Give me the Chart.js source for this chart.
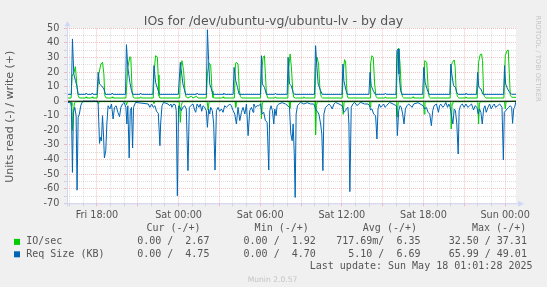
<!DOCTYPE html>
<html>
<head>
<meta charset="utf-8">
<title>IOs for /dev/ubuntu-vg/ubuntu-lv - by day</title>
<script src="https://cdn.jsdelivr.net/npm/chart.js@4.4.1/dist/chart.umd.min.js"></script>
<style>
  html, body { margin: 0; padding: 0; background: #f0f0f0; }
  canvas { display: block; }
</style>
</head>
<body>
<canvas id="chart" width="547" height="287"></canvas>
<script>
// Time is in hours counted from Fri 00:00, values as plotted (read negative)
const ioWrite = [
  [15.80,2.2],[16.10,2.2],[16.17,17],[16.32,20],[16.42,23.7],[16.54,9.5],[16.62,3.8],[16.71,2.2],[17.16,2.2],[17.20,3.0],[17.25,2.2],[17.60,2.2],[17.65,3.0],[17.70,2.2],
  [18.01,2.2],[18.14,18.7],[18.29,25.5],[18.41,26.7],[18.51,18.7],[18.58,3.8],[18.68,2.2],[19.07,2.2],[19.12,3.0],[19.17,2.2],
  [20.13,2.2],[20.27,23.2],[20.42,30.5],[20.49,30.1],[20.59,6.1],[20.67,2.6],[20.75,2.2],[21.16,2.2],[21.21,3.0],[21.26,2.2],
  [22.14,2.2],[22.21,21.0],[22.31,31.2],[22.44,30.4],[22.50,18],[22.56,3.8],[22.62,2.2],
  [24.08,2.2],[24.15,23.2],[24.25,27.8],[24.37,21.0],[24.47,7.2],[24.54,3.1],[24.69,2.2],[24.94,3.4],[25.06,2.2],[25.31,3.4],[25.43,2.2],
  [26.04,2.2],[26.12,18.7],[26.24,26.0],[26.36,25.0],[26.46,7.0],[26.53,2.6],[26.66,2.2],[27.22,2.2],[27.27,3.0],[27.32,2.2],
  [28.10,2.2],[28.18,25.5],[28.25,26.7],[28.37,25.5],[28.47,7.2],[28.55,3.1],[28.64,2.2],
  [30.02,2.2],[30.09,18.7],[30.21,30.1],[30.31,31.2],[30.38,18.7],[30.46,5.0],[30.56,2.2],[31.07,2.2],[31.12,3.0],[31.17,2.2],
  [32.03,2.2],[32.10,23.2],[32.20,32.4],[32.30,22.1],[32.40,6.1],[32.47,2.6],[32.59,2.2],[33.16,2.2],[33.21,3.0],[33.26,2.2],
  [34.02,2.2],[34.09,23.2],[34.19,30.1],[34.29,25.5],[34.39,8.4],[34.48,3.1],[34.58,2.2],
  [36.03,2.2],[36.10,19.8],[36.20,28.5],[36.28,27.0],[36.34,12.0],[36.40,3.8],[36.46,2.2],
  [38.07,2.2],[38.11,25.5],[38.21,31.2],[38.31,30.1],[38.41,11.8],[38.51,3.1],[38.61,2.2],[39.15,2.2],[39.20,3.0],[39.25,2.2],
  [40.01,2.2],[40.08,32.4],[40.18,36.5],[40.28,25.5],[40.37,7.2],[40.45,3.1],[40.55,2.2],[41.18,2.2],[41.23,3.0],[41.28,2.2],
  [42.02,2.2],[42.09,27.8],[42.24,26.7],[42.34,9.5],[42.41,3.1],[42.51,2.2],
  [43.96,2.2],[44.04,24.4],[44.13,26.7],[44.26,28.3],[44.33,23.2],[44.40,7.2],[44.50,3.1],[44.60,2.2],[45.07,2.2],[45.12,3.0],[45.17,2.2],
  [45.95,2.2],[46.05,26.7],[46.17,31.9],[46.27,32.4],[46.34,27.8],[46.42,5.0],[46.49,3.1],[46.59,2.2],
  [47.91,2.2],[48.01,31.2],[48.14,34.7],[48.23,35.1],[48.31,18.7],[48.38,3.8],[48.50,2.7],[48.80,2.67]
];

const ioRead = [
  [15.80,-0.3],[16.12,-0.5],[16.16,-3],[16.20,-20],[16.27,-7.6],[16.35,-1],[16.45,-0.4],
  [18.05,-0.3],[18.09,-1.5],[18.15,-0.3],[20.13,-0.3],[20.17,-2.5],[20.25,-0.3],
  [22.15,-0.3],[22.19,-1.5],[22.25,-0.3],[24.05,-0.5],[24.13,-14.5],[24.20,-3],[24.28,-0.4],
  [26.10,-0.3],[26.17,-6],[26.24,-0.4],[28.15,-0.3],[28.20,-4.2],[28.26,-0.4],
  [30.05,-0.3],[30.09,-12],[30.15,-2],[30.22,-0.4],[32.12,-0.3],[32.18,-5],[32.24,-0.4],
  [34.03,-0.3],[34.07,-23],[34.13,-3],[34.20,-0.4],[36.05,-0.3],[36.10,-9],[36.17,-0.4],
  [38.03,-0.3],[38.07,-4],[38.13,-0.4],[40.03,-0.3],[40.08,-11],[40.14,-0.4],
  [42.01,-0.3],[42.05,-8.8],[42.11,-0.4],[44.00,-0.3],[44.04,-19.1],[44.10,-2],[44.16,-0.4],
  [46.00,-0.3],[46.05,-15.6],[46.11,-2],[46.17,-0.4],[47.96,-0.3],[48.01,-5.3],[48.07,-0.4],[48.80,0]
];

const reqWrite = [
  [15.80,4.7],[16.12,4.7],[16.20,42.7],[16.30,18.7],[16.42,14.1],[16.52,10.7],[16.62,4.7],[17.16,4.7],[17.20,5.6],[17.28,4.7],[17.60,4.7],[17.65,5.6],[17.72,4.7],
  [18.01,4.7],[18.09,19.8],[18.19,11.8],[18.33,10.7],[18.51,8.4],[18.63,4.7],[19.07,4.7],[19.12,5.6],[19.19,4.7],
  [20.10,4.7],[20.17,38.8],[20.27,23.2],[20.42,13.0],[20.54,7.2],[20.64,4.7],[21.16,4.7],[21.21,5.6],[21.28,4.7],
  [22.11,4.7],[22.19,24.4],[22.31,13.0],[22.46,8.4],[22.61,4.7],
  [23.98,4.7],[24.13,26.6],[24.23,18.7],[24.32,11.8],[24.52,4.7],[25.31,4.7],[25.36,5.6],[25.43,4.7],
  [26.04,4.7],[26.12,49.0],[26.21,27.8],[26.29,11.8],[26.41,8.4],[26.53,4.7],[27.27,4.7],[27.32,5.6],[27.39,4.7],
  [28.01,4.7],[28.08,23.2],[28.20,14.1],[28.33,9.5],[28.45,4.7],
  [30.02,4.7],[30.09,31.2],[30.16,11.8],[30.31,9.5],[30.46,4.7],[31.07,4.7],[31.12,5.6],[31.19,4.7],
  [31.98,4.7],[32.05,30.1],[32.15,11.8],[32.28,10.7],[32.42,6.1],[32.52,4.7],
  [33.99,4.7],[34.07,38.1],[34.17,23.2],[34.26,11.8],[34.44,7.2],[34.56,4.7],
  [36.01,4.7],[36.08,25.5],[36.15,14.1],[36.28,8.4],[36.40,4.7],
  [37.99,4.7],[38.07,19.8],[38.16,10.7],[38.31,7.2],[38.46,4.7],[39.15,4.7],[39.20,5.6],[39.27,4.7],
  [39.98,4.7],[40.05,34.7],[40.13,35.8],[40.20,18.7],[40.32,7.2],[40.42,4.7],
  [41.94,4.7],[42.02,23.2],[42.12,13.0],[42.26,8.4],[42.41,4.7],
  [43.94,4.7],[44.01,25.5],[44.08,18.7],[44.21,10.7],[44.35,9.5],[44.45,6.1],[44.55,4.7],[45.07,4.7],[45.12,5.6],[45.19,4.7],
  [45.90,4.7],[45.98,19.8],[46.07,9.5],[46.22,8.4],[46.37,4.7],
  [47.89,4.7],[47.96,24.4],[48.04,11.8],[48.18,8.4],[48.33,6.1],[48.48,4.7],[48.80,4.75]
];

const reqRead = [
  [15.80,-0.8],[16.07,-1.0],[16.12,-4.2],[16.20,-48.8],[16.27,-7.6],[16.37,-4.2],[16.47,-9.9],[16.54,-61.0],[16.62,-11.0],[16.71,-8.8],[16.81,-3.1],[16.91,-0.8],[17.01,0],
  [18.04,0],[18.09,-1.9],[18.19,-28.9],[18.26,-24.8],[18.33,-27.1],[18.41,-9.9],[18.48,-22.5],[18.55,-38.9],[18.65,-33.9],[18.73,-15.6],[18.82,-3.1],[18.95,-5.3],
  [19.07,-1.9],[19.19,-12.2],[19.29,-4.2],[19.41,-3.1],[19.54,-7.6],[19.66,-10.6],[19.76,-4.2],[19.88,-1.9],[20.00,-0.8],
  [20.13,-4.2],[20.20,-15.6],[20.27,-3.1],[20.37,-38.9],[20.45,-6.5],[20.54,-4.2],[20.62,-32.1],[20.69,-4.2],[20.84,-0.8],
  [21.77,-1.9],[21.89,-4.2],[22.02,-1.9],[22.14,-4.2],[22.26,-3.1],[22.38,-6.9],[22.51,-8.3],[22.63,-30.5],[22.68,-15.6],[22.78,-3.1],[22.90,-0.8],
  [23.22,-1.9],[23.34,-3.1],[23.44,-1.9],[23.51,-4.2],[23.64,-1.9],[23.76,-2.5],[23.83,-6.5],[23.91,-64.8],[24.00,-3.1],[24.10,-4.2],[24.20,-6.5],
  [24.32,-4.2],[24.45,-3.1],[24.57,-5.3],[24.69,-47.6],[24.79,-4.2],[24.89,-3.1],[25.06,-1.9],[25.18,-6.0],[25.26,-7.6],[25.36,-1.9],[25.50,-4.2],
  [25.60,-1.9],[25.70,-6.9],[25.80,-3.1],[25.92,-4.2],
  [26.04,-6.5],[26.12,-17.9],[26.21,-5.3],[26.29,-8.8],[26.36,-4.2],[26.48,-6.5],[26.58,-15.6],[26.68,-47.2],[26.78,-6.5],[26.90,-4.2],[27.02,-6.9],
  [27.15,-5.3],[27.27,-7.6],[27.39,-3.1],[27.52,-4.2],[27.64,-3.1],[27.76,-1.9],[27.88,-3.1],
  [28.01,-6.5],[28.13,-8.8],[28.25,-15.6],[28.37,-4.2],[28.50,-13.3],[28.62,-7.6],[28.74,-4.2],[28.87,-8.8],[28.99,-1.9],[29.11,-23.6],[29.23,-6.5],
  [29.36,-4.2],[29.48,-7.6],[29.53,-1.9],[29.65,-4.2],[29.77,-3.1],[29.89,-3.1],
  [30.02,-1.9],[30.14,-8.8],[30.26,-7.6],[30.38,-13.3],[30.51,-14.5],[30.63,-47.2],[30.70,-6.5],[30.80,-3.1],[30.90,-6.5],[31.00,-15.6],[31.07,-5.3],
  [31.17,-9.9],[31.24,-3.1],[31.37,-1.9],[31.61,-1.0],[31.86,-1.9],
  [32.03,-3.1],[32.15,-4.2],[32.25,-22.5],[32.35,-27.1],[32.42,-15.6],[32.50,-35.1],[32.57,-66.0],[32.64,-8.8],[32.74,-3.1],[32.84,-1.9],[32.96,-0.8],
  [33.21,-1.9],[33.45,-1.0],[33.70,-1.9],[33.94,-1.9],
  [34.07,-5.3],[34.19,-6.9],[34.31,-8.8],[34.44,-15.6],[34.53,-22.5],[34.61,-47.6],[34.68,-8.8],[34.80,-4.2],[34.93,-3.1],[35.05,-1.9],[35.17,-3.1],
  [35.29,-5.3],[35.42,-1.9],[35.54,-0.8],[35.79,-1.9],
  [36.03,-3.1],[36.15,-7.6],[36.28,-6.5],[36.32,-5.3],[36.45,-4.2],[36.52,-15.6],[36.59,-62.0],[36.69,-4.2],[36.81,-1.9],[36.94,-0.8],[37.13,-3.1],
  [37.23,-1.9],[37.38,-0.8],[37.67,-1.9],[37.92,-1.9],
  [38.04,-3.1],[38.11,-6.0],[38.21,-5.3],[38.34,-8.8],[38.48,-9.9],[38.58,-25.9],[38.66,-5.3],[38.75,-1.9],[38.85,-4.2],[38.95,-3.1],[39.07,-1.9],
  [39.17,-4.2],[39.29,-3.1],[39.39,-1.9],[39.51,-0.8],[39.76,-1.9],
  [40.01,-3.1],[40.08,-23.6],[40.18,-6.5],[40.28,-3.1],[40.37,-4.2],[40.47,-8.8],[40.57,-15.6],[40.67,-5.3],[40.79,-3.1],[40.91,-1.9],[41.06,-3.1],
  [41.16,-4.2],[41.28,-1.9],[41.60,-1.0],
  [41.97,-3.1],[42.09,-5.3],[42.21,-4.2],[42.34,-7.6],[42.46,-8.8],[42.58,-16.8],[42.68,-6.5],[42.78,-3.1],[42.95,-1.9],[43.10,-7.6],[43.18,-3.1],
  [43.27,-1.9],[43.42,-4.2],[43.52,-3.1],[43.64,-0.8],[43.77,-4.2],[43.86,-1.9],
  [43.96,-4.2],[44.08,-11.0],[44.16,-15.6],[44.26,-5.3],[44.35,-6.5],[44.45,-15.6],[44.55,-36.2],[44.62,-6.5],[44.72,-3.1],[44.85,-1.9],[44.99,-4.2],
  [45.12,-1.9],[45.26,-4.2],[45.39,-3.1],[45.53,-1.9],[45.68,-6.0],[45.80,-3.1],
  [45.93,-4.2],[46.02,-8.8],[46.12,-5.3],[46.22,-7.6],[46.32,-15.6],[46.42,-5.3],[46.52,-3.1],[46.61,-7.6],[46.74,-4.2],[46.86,-1.9],[46.98,-5.3],
  [47.10,-3.1],[47.20,-1.9],[47.30,-4.2],[47.45,-3.1],[47.60,-1.9],
  [47.77,-4.2],[47.87,-40.3],[47.94,-7.6],[48.04,-6.5],[48.14,-5.3],[48.26,-4.2],[48.38,-3.1],[48.48,-4.2],[48.55,-15.2],[48.63,-5.3],[48.70,-4.2],[48.80,0]
];

// axis ticks
const gridHours = [16,17,18,19,20,21,22,23,24,25,26,27,28,29,30,31,32,33,34,35,36,37,38,39,40,41,42,43,44,45,46,47,48];
const labelHours = [18, 24, 30, 36, 42, 48];
const timeLabels = ['Fri 18:00', 'Sat 00:00', 'Sat 06:00', 'Sat 12:00', 'Sat 18:00', 'Sun 00:00'];
const yTicks = [-70,-65,-60,-55,-50,-45,-40,-35,-30,-25,-20,-15,-10,-5,0,5,10,15,20,25,30,35,40,45,50];

// legend table
const seriesNames = ['IO/sec', 'Req Size (KB)'];
const seriesColors = ['#00cc00', '#0066b3'];
const statHeads = ['Cur (-/+)', 'Min (-/+)', 'Avg (-/+)', 'Max (-/+)'];
const statCur = ['  0.00 /  2.67', '  0.00 /  4.75'];
const statMin = ['  0.00 /  1.92', '  0.00 /  4.70'];
const statAvg = ['717.69m/  6.35', '  5.10 /  6.69'];
const statMax = [' 32.50 / 37.31', ' 65.99 / 49.01'];

const toPoints = arr => arr.map(p => ({x: p[0], y: p[1]}));

const minorGrid = 'rgba(150,150,150,0.32)';
const majorGrid = 'rgba(225,90,90,0.36)';
const fontColor = '#555555';

const muninDecor = {
  id: 'muninDecor',
  beforeDraw(chart) {
    const {ctx, chartArea: a} = chart;
    ctx.save();
    ctx.fillStyle = '#f0f0f0';
    ctx.fillRect(0, 0, chart.width, chart.height);
    ctx.fillStyle = '#ffffff';
    ctx.fillRect(a.left, a.top, a.right - a.left, a.bottom - a.top);
    ctx.restore();
  },
  afterDatasetsDraw(chart) {
    const {ctx, chartArea: a} = chart;
    const y0 = chart.scales.y.getPixelForValue(0);
    ctx.save();
    ctx.strokeStyle = '#000000';
    ctx.lineWidth = 1;
    ctx.beginPath();
    ctx.moveTo(a.left, y0);
    ctx.lineTo(a.right, y0);
    ctx.stroke();

    // axes with arrows
    ctx.strokeStyle = '#cfd6f8';
    ctx.fillStyle = '#cfd6f8';
    ctx.beginPath();
    ctx.moveTo(a.left - 3, a.bottom + 0.5);
    ctx.lineTo(a.right + 3, a.bottom + 0.5);
    ctx.moveTo(a.left + 0.5, a.bottom + 3);
    ctx.lineTo(a.left + 0.5, a.top - 3);
    ctx.stroke();
    ctx.beginPath();
    ctx.moveTo(a.right + 8, a.bottom + 0.5);
    ctx.lineTo(a.right + 2, a.bottom - 2.5);
    ctx.lineTo(a.right + 2, a.bottom + 3.5);
    ctx.closePath();
    ctx.fill();
    ctx.beginPath();
    ctx.moveTo(a.left + 0.5, a.top - 7);
    ctx.lineTo(a.left - 2.5, a.top - 2);
    ctx.lineTo(a.left + 3.5, a.top - 2);
    ctx.closePath();
    ctx.fill();
    ctx.restore();
  },
  afterDraw(chart) {
    const ctx = chart.ctx;
    ctx.save();
    ctx.fillStyle = fontColor;
    ctx.textBaseline = 'alphabetic';
    ctx.textAlign = 'center';
    ctx.font = '12.5px "DejaVu Sans"';
    ctx.fillText('IOs for /dev/ubuntu-vg/ubuntu-lv - by day', 273.5, 25);

    // y axis title
    ctx.save();
    ctx.translate(10.5, 116.7);
    ctx.rotate(-Math.PI / 2);
    ctx.textBaseline = 'middle';
    ctx.font = '11px "DejaVu Sans"';
    ctx.fillText('Units read (-) / write (+)', 0, 0);
    ctx.restore();

    // watermark on the right
    ctx.save();
    ctx.translate(537.5, 15.5);
    ctx.rotate(Math.PI / 2);
    ctx.textAlign = 'left';
    ctx.textBaseline = 'middle';
    ctx.fillStyle = '#c4c4c4';
    ctx.font = '6.7px "DejaVu Sans"';
    ctx.fillText('RRDTOOL / TOBI OETIKER', 0, 0);
    ctx.restore();

    // legend
    ctx.font = '10px "DejaVu Sans Mono"';
    ctx.textBaseline = 'middle';
    ctx.textAlign = 'right';
    const headRight = [200.6, 308.8, 417, 526.2];
    statHeads.forEach((h, i) => ctx.fillText(h, headRight[i], 228.4));
    const colRight = [209.4, 315.8, 420.5, 526.9];
    const rowY = [241.9, 254.3];
    seriesNames.forEach((name, r) => {
      ctx.fillStyle = seriesColors[r];
      ctx.fillRect(14, rowY[r] - 3, 6, 6);
      ctx.fillStyle = fontColor;
      ctx.textAlign = 'left';
      ctx.fillText(name, 26.2, rowY[r]);
      ctx.textAlign = 'right';
      [statCur, statMin, statAvg, statMax].forEach((col, c) => {
        ctx.fillText(col[r], colRight[c], rowY[r]);
      });
    });
    ctx.fillText('Last update: Sun May 18 01:01:28 2025', 532.5, 266.3);

    ctx.textAlign = 'center';
    ctx.fillStyle = '#c4c4c4';
    ctx.font = '7.6px "DejaVu Sans"';
    ctx.fillText('Munin 2.0.57', 272.5, 279.8);
    ctx.restore();
  }
};

const ctx = document.getElementById('chart').getContext('2d');

new Chart(ctx, {
  type: 'line',
  data: {
    datasets: [
      {label: 'Req Size write', data: toPoints(reqWrite), borderColor: '#0066b3'},
      {label: 'Req Size read', data: toPoints(reqRead), borderColor: '#0066b3'},
      {label: 'IO/sec write', data: toPoints(ioWrite), borderColor: '#00cc00'},
      {label: 'IO/sec read', data: toPoints(ioRead), borderColor: '#00cc00'}
    ]
  },
  options: {
    responsive: false,
    animation: false,
    devicePixelRatio: 1,
    events: [],
    parsing: false,
    layout: {padding: {left: 0, top: 28.3, right: 31, bottom: 0}},
    elements: {
      line: {borderWidth: 1, tension: 0, fill: false},
      point: {radius: 0}
    },
    plugins: {
      legend: {display: false},
      tooltip: {enabled: false},
      title: {display: false}
    },
    scales: {
      x: {
        type: 'linear',
        min: 15.8,
        max: 48.8,
        afterFit: s => { s.height = 83.7; },
        afterBuildTicks: s => { s.ticks = gridHours.map(v => ({value: v})); },
        ticks: {
          autoSkip: false,
          maxRotation: 0,
          padding: 3,
          color: fontColor,
          font: {family: 'DejaVu Sans', size: 9.7},
          callback: v => {
            const i = labelHours.indexOf(v);
            return i >= 0 ? timeLabels[i] : '';
          }
        },
        grid: {
          color: c => (c.tick && c.tick.value % 3 === 0) ? majorGrid : minorGrid,
          tickColor: c => (c.tick && c.tick.value % 3 === 0) ? majorGrid : minorGrid,
          tickLength: 3,
          lineWidth: 1
        },
        border: {display: false, dash: [1, 1]}
      },
      y: {
        type: 'linear',
        min: -70,
        max: 50,
        afterFit: s => { s.width = 67; },
        afterBuildTicks: s => { s.ticks = yTicks.map(v => ({value: v})); },
        ticks: {
          autoSkip: false,
          padding: 4.7,
          color: fontColor,
          font: {family: 'DejaVu Sans', size: 9.7},
          callback: v => (v % 10 === 0 ? String(v) : '')
        },
        grid: {
          color: c => (c.tick && c.tick.value % 10 === 0) ? majorGrid : minorGrid,
          tickColor: c => (c.tick && c.tick.value % 10 === 0) ? majorGrid : minorGrid,
          tickLength: 3,
          lineWidth: 1
        },
        border: {display: false, dash: [1, 1]}
      }
    }
  },
  plugins: [muninDecor]
});
</script>
</body>
</html>
